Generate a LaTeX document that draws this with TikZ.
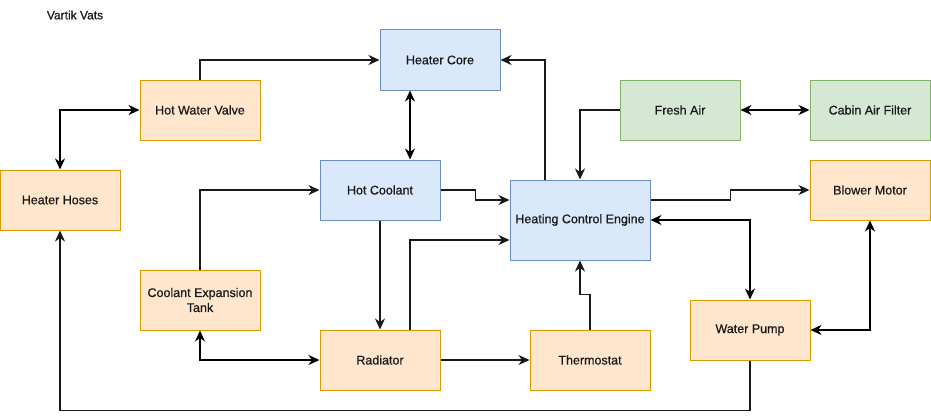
\documentclass[tikz,border=0pt]{standalone}
\usepackage{fontspec}
\setmainfont[FakeBold=0.7]{Liberation Sans}
\usetikzlibrary{arrows.meta}
\definecolor{bluefill}{HTML}{DAE8FC}
\definecolor{bluedraw}{HTML}{6C8EBF}
\definecolor{orfill}{HTML}{FFE6CC}
\definecolor{ordraw}{HTML}{D79B00}
\definecolor{grfill}{HTML}{D5E8D4}
\definecolor{grdraw}{HTML}{82B366}
\definecolor{txt}{HTML}{1A1A1A}
\tikzset{
  box/.style={rectangle, minimum width=120pt, minimum height=60pt, inner sep=1pt, align=center, font=\fontsize{12.5}{15}\selectfont, text=txt, line width=1pt},
  bluebox/.style={box, fill=bluefill, draw=bluedraw},
  orbox/.style={box, fill=orfill, draw=ordraw},
  grbox/.style={box, fill=grfill, draw=grdraw},
  conn/.style={line width=1.7pt, draw=black!90, -{Stealth[length=11pt,width=10pt,inset=3.5pt]}},
  biconn/.style={line width=2.4pt, draw=black, {Stealth[length=11pt,width=10pt,inset=3.5pt]}-{Stealth[length=11pt,width=10pt,inset=3.5pt]}},
}
\begin{document}
\begin{tikzpicture}[x=1pt,y=-1pt]
\useasboundingbox (0,0) rectangle (931,420);
\node[font=\fontsize{12}{14}\selectfont, text=txt] (author) at (75,15) {Vartik Vats};
\node[bluebox] (hcore) at (440,60) {Heater Core};
\node[orbox] (hwv) at (200,110) {Hot Water Valve};
\node[orbox] (hoses) at (60,200) {Heater Hoses};
\node[bluebox] (hcool) at (380,190) {Hot Coolant};
\node[bluebox, minimum width=140pt, minimum height=80pt] (hce) at (580,220) {Heating Control Engine};
\node[grbox] (fresh) at (680,110) {Fresh Air};
\node[grbox] (cabin) at (870,110) {Cabin Air Filter};
\node[orbox] (blower) at (870,190) {Blower Motor};
\node[orbox] (cet) at (200,300) {Coolant Expansion\\Tank};
\node[orbox] (rad) at (380,360) {Radiator};
\node[orbox] (thermo) at (590,360) {Thermostat};
\node[orbox] (pump) at (750,330) {Water Pump};

\draw[conn] (hwv.north) |- (hcore.west);
\draw[biconn] (hoses.north) |- (hwv.west);
\draw[biconn] ([xshift=-30pt]hcore.south) -- ([xshift=30pt]hcool.north);
\draw[conn] ([xshift=-35pt]hce.north) |- (hcore.east);
\draw[conn] (fresh.west) -| (hce.north);
\draw[biconn] (fresh.east) -- (cabin.west);
\draw[conn] (hcool.east) -- ++(35,0) |- ([yshift=20pt]hce.west);
\draw[conn] (cet.north) |- (hcool.west);
\draw[conn] (hcool.south) -- (rad.north);
\draw[conn] ([xshift=30pt]rad.north) |- ([yshift=-20pt]hce.west);
\draw[biconn] (cet.south) |- (rad.west);
\draw[conn] (rad.east) -- (thermo.west);
\draw[conn] (thermo.north) -- ++(0,-35) -| (hce.south);
\draw[conn] ([yshift=20pt]hce.east) -- ++(80,0) |- (blower.west);
\draw[biconn] (hce.east) -| (pump.north);
\draw[biconn] (pump.east) -| (blower.south);
\draw[conn] (pump.south) -- ++(0,50) -| (hoses.south);
\end{tikzpicture}
\end{document}
